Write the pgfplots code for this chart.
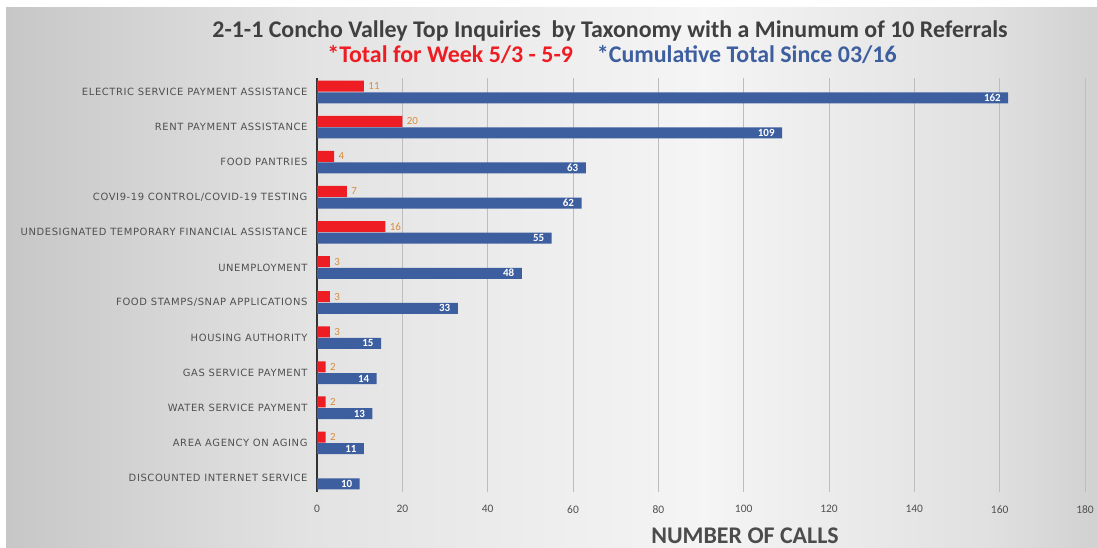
\documentclass[border=0pt]{standalone}
\usepackage{fontspec}
\setmainfont{Carlito}
\newfontfamily\catfont[LetterSpace=6]{DejaVu Sans}
\usepackage{pgfplots}
\pgfplotsset{compat=1.18}
\definecolor{barred}{HTML}{EE1D23}
\definecolor{barblue}{HTML}{3D5FA0}
\definecolor{lblorange}{HTML}{D98C3C}
\definecolor{txtgray}{HTML}{505050}
\definecolor{gridgray}{HTML}{BDBDBD}
\pgfdeclarehorizontalshading{bggrad}{100bp}{color(0bp)=(black!22); color(25bp)=(black!22);
  color(39bp)=(black!11); color(57bp)=(black!4); color(70bp)=(black!12); color(75bp)=(black!18); color(100bp)=(black!18)}
\begin{document}
\begin{tikzpicture}
\path[use as bounding box] (0,0) rectangle (1097bp,548bp);
\fill[white] (0,0) rectangle (1097bp,548bp);
\shade[shading=bggrad] (6bp,0) rectangle (1097bp,540bp);
\begin{axis}[
  at={(317bp,56bp)}, anchor=south west,
  scale only axis,
  width=768bp, height=414bp,
  xbar, bar width=11bp,
  xmin=0, xmax=180,
  ymin=0.6, ymax=12.4,
  xtick={0,20,...,180},
  ytick={1,...,12},
  yticklabels={DISCOUNTED INTERNET SERVICE, AREA AGENCY ON AGING, WATER SERVICE PAYMENT,
    GAS SERVICE PAYMENT, HOUSING AUTHORITY, FOOD STAMPS/SNAP APPLICATIONS, UNEMPLOYMENT,
    UNDESIGNATED TEMPORARY FINANCIAL ASSISTANCE, COVI9-19 CONTROL/COVID-19 TESTING,
    FOOD PANTRIES, RENT PAYMENT ASSISTANCE, ELECTRIC SERVICE PAYMENT ASSISTANCE},
  yticklabel style={font=\catfont\fontsize{10}{11}\selectfont, text=txtgray, xshift=-6bp},
  xticklabel style={font=\fontsize{11.5}{12}\selectfont, text=txtgray, yshift=-10bp},
  /pgf/number format/assume math mode=true,
  major tick length=0pt,
  xmajorgrids, grid style={gridgray, line width=0.7pt},
  axis lines=left, axis line style={-},
  x axis line style={draw=none},
  y axis line style={draw=black!80, line width=1.3pt},
  clip=false,
]
\addplot[fill=barred, draw=none, bar shift=5.8bp,
  nodes near coords,
  every node near coord/.append style={anchor=west, xshift=1bp, text=lblorange, font=\fontsize{11}{12}\selectfont}]
  coordinates {(11,12) (20,11) (4,10) (7,9) (16,8) (3,7) (3,6) (3,5) (2,4) (2,3) (2,2)};
\addplot[fill=barblue, draw=none, bar shift=-5.8bp,
  nodes near coords,
  every node near coord/.append style={anchor=east, xshift=-4bp, text=white, font=\bfseries\fontsize{11}{12}\selectfont}]
  coordinates {(162,12) (109,11) (63,10) (62,9) (55,8) (48,7) (33,6) (15,5) (14,4) (13,3) (11,2) (10,1)};
\end{axis}
\node[font=\bfseries\fontsize{24}{26}\selectfont, text=black!75] at (610bp,517bp)
  {2-1-1 Concho Valley Top Inquiries\ \ by Taxonomy with a Minumum of 10 Referrals};
\node[font=\bfseries\fontsize{24}{26}\selectfont] at (612bp,494bp)
  {\textcolor{barred}{*Total for Week 5/3 - 5-9}\hspace{24bp}\textcolor{barblue}{*Cumulative Total Since 03/16}};
\node[font=\bfseries\fontsize{24}{26}\selectfont, text=black!70] at (745bp,12bp) {NUMBER OF CALLS};
\end{tikzpicture}
\end{document}
